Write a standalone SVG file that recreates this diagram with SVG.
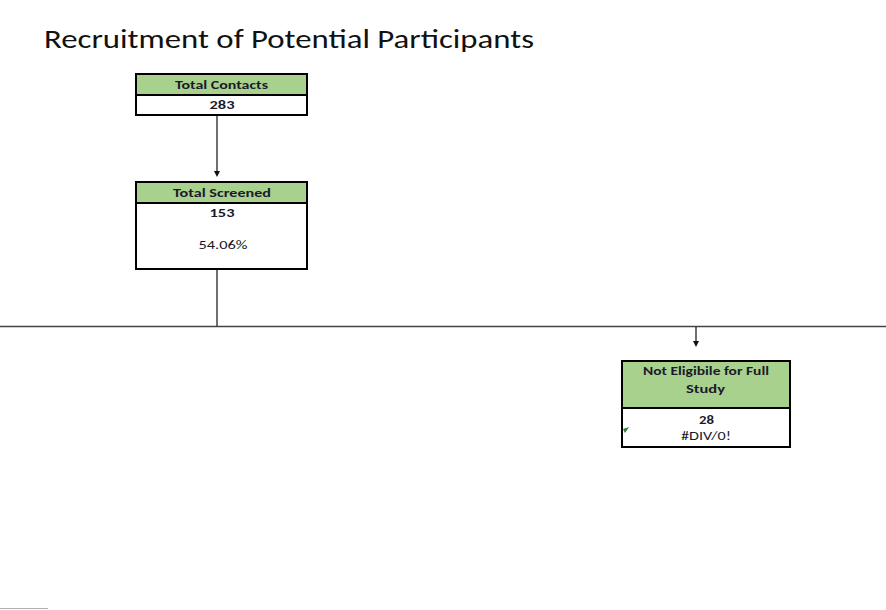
<svg xmlns="http://www.w3.org/2000/svg" width="886" height="610" viewBox="0 0 886 610">
<defs>
<style>
.hdr{fill:#a9d18e;stroke:#000;stroke-width:2}
.body{fill:#fff;stroke:#000;stroke-width:2}
.t{font-family:Carlito,"Liberation Sans",sans-serif;font-size:12px;font-weight:bold;fill:#1a1a2a;text-anchor:middle}
.n{font-family:Carlito,"Liberation Sans",sans-serif;font-size:12px;fill:#1a1a2a;text-anchor:middle}
.line{stroke:#222;stroke-width:1.3;fill:none}
</style>
<marker id="ah" markerWidth="6" markerHeight="6" refX="3" refY="3" orient="auto" markerUnits="userSpaceOnUse">
<path d="M0,0 L6,3 L0,6 z" fill="#111"/>
</marker>
</defs>
<rect width="886" height="610" fill="#fff"/>
<text x="44" y="48" font-family="Carlito,'Open Sans','Liberation Sans',sans-serif" font-size="26" fill="#111" textLength="490" lengthAdjust="spacingAndGlyphs">Recruitment of Potential Participants</text>
<g id="connectors">
<line class="line" x1="217" y1="116" x2="217" y2="174" marker-end="url(#ah)"/>
<line class="line" x1="217" y1="270" x2="217" y2="326"/>
<line x1="0" y1="326.5" x2="886" y2="326.5" stroke="#444" stroke-width="1.3"/>
<line class="line" x1="696" y1="327" x2="696" y2="344" marker-end="url(#ah)"/>
</g>
<g id="total-contacts">
<rect class="hdr" x="136" y="74" width="171" height="21"/>
<rect class="body" x="136" y="95" width="171" height="20"/>
<text class="t" x="221.5" y="89" textLength="93" lengthAdjust="spacingAndGlyphs">Total Contacts</text>
<text class="t" x="222" y="109" textLength="25" lengthAdjust="spacingAndGlyphs">283</text>
</g>
<g id="total-screened">
<rect class="hdr" x="136" y="182" width="171" height="21"/>
<rect class="body" x="136" y="203" width="171" height="66"/>
<text class="t" x="222" y="197" textLength="98" lengthAdjust="spacingAndGlyphs">Total Screened</text>
<text class="t" x="222" y="217" textLength="25" lengthAdjust="spacingAndGlyphs">153</text>
<text class="n" x="223" y="249" textLength="49" lengthAdjust="spacingAndGlyphs">54.06%</text>
</g>
<g id="not-eligible">
<rect class="hdr" x="622" y="361" width="168" height="47"/>
<rect class="body" x="622" y="408" width="168" height="39"/>
<text class="t" x="706" y="375" textLength="126" lengthAdjust="spacingAndGlyphs">Not Eligibile for Full</text>
<text class="t" x="705.5" y="393" textLength="39" lengthAdjust="spacingAndGlyphs">Study</text>
<text class="t" x="706.5" y="424" textLength="15" lengthAdjust="spacingAndGlyphs">28</text>
<text class="n" x="706" y="440" textLength="50" lengthAdjust="spacingAndGlyphs">#DIV/0!</text>
<path d="M623,429 L629,427 L625,433 z" fill="#2e7d32"/>
</g>
<line x1="0" y1="608.5" x2="48" y2="608.5" stroke="#b0b0b0" stroke-width="1.2"/>
</svg>
